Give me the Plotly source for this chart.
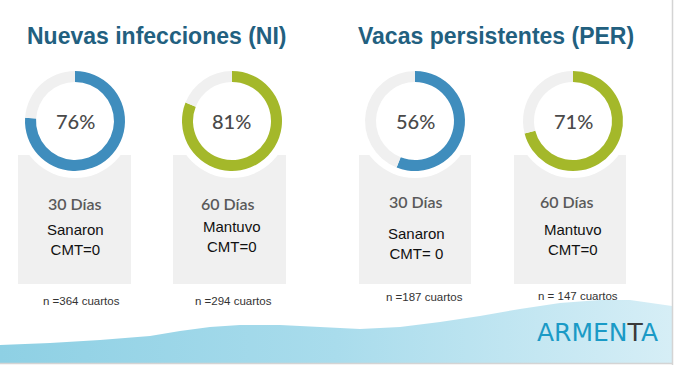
import plotly.graph_objects as go

W, H = 676, 365

# ---- data ----
group_titles = ["Nuevas infecciones (NI)", "Vacas persistentes (PER)"]
periods = ["30 Días", "60 Días", "30 Días", "60 Días"]
percents = [76, 81, 56, 71]
outcomes = ["Sanaron<br>CMT=0", "Mantuvo<br>CMT=0", "Sanaron<br>CMT= 0", "Mantuvo<br>CMT=0"]
n_labels = ["n =364 cuartos", "n =294 cuartos", "n =187 cuartos", "n = 147 cuartos"]

# ---- layout / style ----
ring_colors = ["#3f8dbd", "#a4b82a", "#3f8dbd", "#a4b82a"]
track = "#f0f0f0"
centers = [(75, 121), (232, 121), (415, 121), (573, 121)]
R = 50
boxes = [(18, 131), (173, 286), (359, 471), (514, 626)]
box_y = (155, 284)
title_x = [156, 496]
period_pos = [(75, 203), (228, 203), (416, 202), (567, 202)]
outcome_pos = [(75, 239), (232, 236), (416, 243), (573, 239)]
n_pos = [(81, 301), (233, 301), (424, 297), (578, 296)]

# decorative wave profile (pixel coords)
wave_x = [0, 50, 100, 150, 180, 210, 240, 280, 320, 360, 400, 440, 480, 520, 560, 600, 630, 660, 672]
wave_y = [345, 343, 340, 336, 331, 327, 325, 325, 327, 329, 327, 322, 316, 309, 303, 300, 300, 304, 306]


def px(x):
    return x / W


def py(y):
    return 1 - y / H


fig = go.Figure()

# wave background
fig.add_trace(go.Scatter(
    x=wave_x + [672, 0], y=wave_y + [363, 363],
    mode="lines", line=dict(width=0), fill="toself",
    fillgradient=dict(type="horizontal",
                      colorscale=[[0, "#8ed0e4"], [0.5, "#a9dcec"], [1, "#d6eef6"]]),
    hoverinfo="skip", showlegend=False,
))

shapes = []
for (x0, x1) in boxes:
    shapes.append(dict(type="rect", xref="paper", yref="paper",
                       x0=px(x0), x1=px(x1), y0=py(box_y[1]), y1=py(box_y[0]),
                       fillcolor="#f0f0f0", line=dict(width=0), layer="below"))
for (cx, cy) in centers:
    shapes.append(dict(type="circle", xref="paper", yref="paper",
                       x0=px(cx - 57), x1=px(cx + 57), y0=py(cy + 57), y1=py(cy - 57),
                       fillcolor="white", line=dict(width=0), layer="below"))
# frame lines
shapes.append(dict(type="line", xref="paper", yref="paper", x0=px(672.5), x1=px(672.5),
                   y0=0, y1=1, line=dict(color="#d4d4d4", width=1.5), layer="above"))
shapes.append(dict(type="line", xref="paper", yref="paper", x0=0, x1=px(673),
                   y0=py(363.5), y1=py(363.5), line=dict(color="#d4d4d4", width=1.5), layer="above"))

for i, (cx, cy) in enumerate(centers):
    fig.add_trace(go.Pie(
        values=[percents[i], 100 - percents[i]],
        marker=dict(colors=[ring_colors[i], track], line=dict(width=0)),
        hole=0.78, sort=False, direction="clockwise", rotation=0,
        textinfo="none", hoverinfo="skip", showlegend=False,
        domain=dict(x=[px(cx - R), px(cx + R)], y=[py(cy + R), py(cy - R)]),
    ))

ann = []
for i, t in enumerate(group_titles):
    ann.append(dict(text=f"<b>{t}</b>", x=px(title_x[i]), y=py(36),
                    font=dict(family="Liberation Sans, Arial", size=23, color="#22607f")))
for i, (cx, cy) in enumerate(centers):
    ann.append(dict(text=f"{percents[i]}%", x=px(cx), y=py(cy),
                    font=dict(family="Lato", size=20, color="#4a4a4a", weight=500)))
    ann.append(dict(text=periods[i], x=px(period_pos[i][0]), y=py(period_pos[i][1]),
                    font=dict(family="Lato", size=16, color="#5a5a5a", weight=600)))
    ann.append(dict(text=outcomes[i], x=px(outcome_pos[i][0]), y=py(outcome_pos[i][1]),
                    font=dict(family="Liberation Sans, Arial", size=15, color="#111111")))
    ann.append(dict(text=n_labels[i], x=px(n_pos[i][0]), y=py(n_pos[i][1]),
                    font=dict(family="Liberation Sans, Arial", size=11.5, color="#333333")))
ann.append(dict(text="ARMEN<span style='color:#3a3a3a'>T</span>A", x=px(597), y=py(332),
                font=dict(family="DejaVu Sans", size=25, color="#1a9ac6", weight=400)))
for a in ann:
    a.update(xref="paper", yref="paper", showarrow=False, xanchor="center", yanchor="middle")

fig.update_layout(
    width=W, height=H, margin=dict(l=0, r=0, t=0, b=0),
    paper_bgcolor="white", plot_bgcolor="rgba(0,0,0,0)",
    xaxis=dict(range=[0, W], visible=False, fixedrange=True, domain=[0, 1]),
    yaxis=dict(range=[H, 0], visible=False, fixedrange=True, domain=[0, 1]),
    shapes=shapes, annotations=ann, showlegend=False,
)

fig.write_html("out.html", config={"displayModeBar": False},
               post_script="document.body.style.margin='0';")
